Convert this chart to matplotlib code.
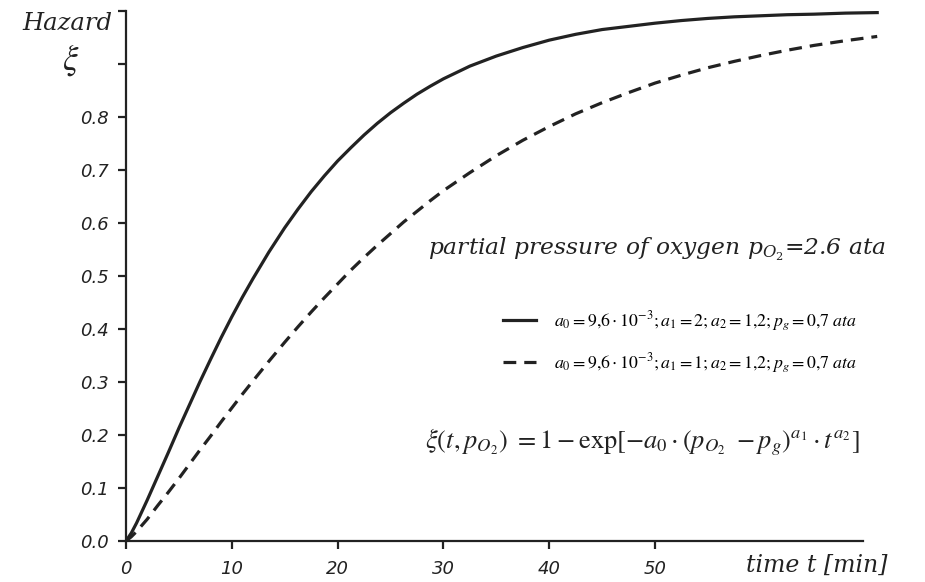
import numpy as np
import matplotlib
matplotlib.use('Agg')
import matplotlib.pyplot as plt
from matplotlib.lines import Line2D

plt.rcParams['mathtext.fontset'] = 'stix'

# values
t = [0, 0.5, 1, 2, 3, 4, 5, 6, 7, 8, 9, 10, 11, 12, 13.5, 15, 16.25, 17.5,
     18.75, 20, 21.25, 22.5, 23.75, 25, 26.25, 27.5, 28.75, 30, 32.5, 35,
     37.5, 40, 42.5, 45, 47.5, 50, 52.5, 55, 57.5, 60, 62.5, 65, 68, 71]
xi_solid = [0.0, 0.015, 0.034, 0.077, 0.122, 0.167, 0.213, 0.257, 0.301, 0.343,
            0.384, 0.423, 0.460, 0.495, 0.545, 0.591, 0.626, 0.659, 0.689,
            0.717, 0.742, 0.766, 0.788, 0.808, 0.826, 0.843, 0.858, 0.872,
            0.896, 0.915, 0.931, 0.945, 0.956, 0.965, 0.971, 0.977, 0.982,
            0.986, 0.989, 0.991, 0.993, 0.994, 0.996, 0.997]
xi_dashed = [0.0, 0.008, 0.018, 0.041, 0.067, 0.092, 0.118, 0.145, 0.172, 0.198,
             0.225, 0.251, 0.277, 0.302, 0.339, 0.375, 0.404, 0.432, 0.459,
             0.485, 0.511, 0.535, 0.558, 0.580, 0.602, 0.622, 0.642, 0.661,
             0.695, 0.727, 0.756, 0.782, 0.806, 0.827, 0.846, 0.864, 0.879,
             0.893, 0.905, 0.916, 0.926, 0.935, 0.944, 0.952]

yticks = [0.0, 0.1, 0.2, 0.3, 0.4, 0.5, 0.6, 0.7, 0.8, 0.9, 1.0]
ytick_labels = ['0.0', '0.1', '0.2', '0.3', '0.4', '0.5', '0.6', '0.7', '0.8', '', '']
xticks = [0, 10, 20, 30, 40, 50]

label_solid = r'$a_0=9{,}6\cdot10^{-3};a_1=2;a_2=1{,}2;p_g=0{,}7\ ata$'
label_dashed = r'$a_0=9{,}6\cdot10^{-3};a_1=1;a_2=1{,}2;p_g=0{,}7\ ata$'

ink = '#222222'

fig = plt.figure(figsize=(9.25, 5.82), dpi=100)
ax = fig.add_axes([126/925, 1-541/582, (882.5-126)/925, 530/582])

ax.plot(t, xi_solid, color=ink, linewidth=2.3, solid_joinstyle='round')
ax.plot(t, xi_dashed, color=ink, linewidth=2.3, dashes=(4, 2.5))

ax.set_xlim(0, 71.5)
ax.set_ylim(0, 1.0)
for s in ['top', 'right']:
    ax.spines[s].set_visible(False)
for s in ['left', 'bottom']:
    ax.spines[s].set_linewidth(1.6)
    ax.spines[s].set_color(ink)
ax.spines['bottom'].set_bounds(0, 69.7)

ax.set_xticks(xticks)
ax.set_yticks(yticks)
ax.set_yticklabels(ytick_labels)
ax.tick_params(direction='out', length=6, width=1.6, color=ink, labelcolor=ink,
               labelsize=13)
ax.tick_params(axis='x', pad=8)
ax.tick_params(axis='y', pad=6)
for lab in ax.get_xticklabels() + ax.get_yticklabels():
    lab.set_fontstyle('italic')

ax.text(-1.3, 0.977, 'Hazard', ha='right', va='center', fontsize=17.5,
        fontfamily='DejaVu Serif', fontstyle='italic', color=ink, clip_on=False)
ax.text(-5.2, 0.907, r'$\xi$', ha='center', va='center', fontsize=25,
        color=ink, clip_on=False)
ax.text(72.0, -0.045, 'time t [min]', ha='right', va='center', fontsize=17,
        fontfamily='DejaVu Serif', fontstyle='italic', color=ink, clip_on=False)

ax.text(28.5, 0.54, 'partial pressure of oxygen p$_{O_2}$=2.6 ata', ha='left',
        va='baseline', fontsize=16.8, fontfamily='DejaVu Serif', fontstyle='italic',
        color=ink, math_fontfamily='dejavuserif')

ax.text(28.3, 0.187,
        r'$\xi(t,p_{O_2})\ =1-\exp[-a_0\cdot(p_{O_2}\ -p_g)^{a_1}\cdot t^{a_2}]$',
        ha='left', va='center', fontsize=19, color=ink)

handles = [Line2D([], [], color=ink, linewidth=2.3),
           Line2D([], [], color=ink, linewidth=2.3, dashes=(4, 2.5))]
ax.legend(handles, [label_solid, label_dashed], loc='center left',
          bbox_to_anchor=(35.6, 0.375), bbox_transform=ax.transData,
          frameon=False, fontsize=12.8, handlelength=1.9, handletextpad=1.0,
          labelspacing=1.0, borderpad=0, borderaxespad=0)

fig.savefig('out.png', dpi=100)
